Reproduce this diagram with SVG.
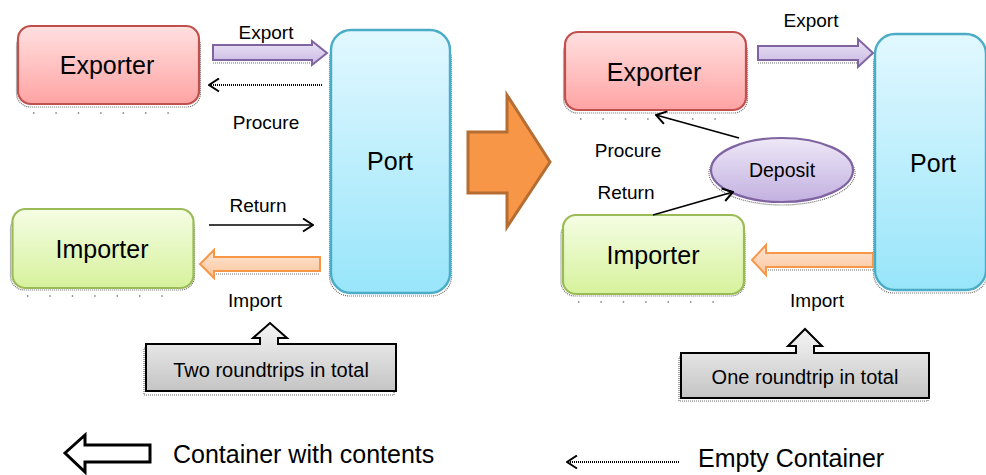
<svg xmlns="http://www.w3.org/2000/svg" width="986" height="475" viewBox="0 0 986 475">
  <defs>
    <linearGradient id="gExp" x1="0" y1="0" x2="0" y2="1">
      <stop offset="0" stop-color="#ffe0e0"/>
      <stop offset="1" stop-color="#ffa3a3"/>
    </linearGradient>
    <linearGradient id="gImp" x1="0" y1="0" x2="0" y2="1">
      <stop offset="0" stop-color="#f5fde4"/>
      <stop offset="1" stop-color="#d6f29c"/>
    </linearGradient>
    <linearGradient id="gPort" x1="0" y1="0" x2="0" y2="1">
      <stop offset="0" stop-color="#e2f8ff"/>
      <stop offset="1" stop-color="#98e5fa"/>
    </linearGradient>
    <linearGradient id="gDep" x1="0" y1="0" x2="0" y2="1">
      <stop offset="0" stop-color="#eee8f7"/>
      <stop offset="1" stop-color="#c2b0e0"/>
    </linearGradient>
    <linearGradient id="gPurple" x1="0" y1="0" x2="0" y2="1">
      <stop offset="0" stop-color="#ebe4f5"/>
      <stop offset="1" stop-color="#c8b7e2"/>
    </linearGradient>
    <linearGradient id="gOrange" x1="0" y1="0" x2="0" y2="1">
      <stop offset="0" stop-color="#fde6d4"/>
      <stop offset="1" stop-color="#fbc59c"/>
    </linearGradient>
    <linearGradient id="gGray" x1="0" y1="0" x2="0" y2="1">
      <stop offset="0" stop-color="#f5f5f5"/>
      <stop offset="1" stop-color="#c4c4c4"/>
    </linearGradient>
    <marker id="chev" viewBox="0 0 12 15" refX="11" refY="7.5" markerWidth="12" markerHeight="15" markerUnits="userSpaceOnUse" orient="auto">
      <path d="M1,1 L11,7.5 L1,14" fill="none" stroke="#000" stroke-width="2"/>
    </marker>
    <style>
      text { font-family: "Liberation Sans", Arial, sans-serif; fill: #000; }
      .big { font-size: 25px; text-anchor: middle; }
      .lbl { font-size: 19px; text-anchor: middle; }
      .note { font-size: 20px; text-anchor: middle; }
      .leg { font-size: 25px; }
      .shd { fill: none; stroke: #3a3a3a; stroke-width: 1.2; stroke-dasharray: 1 1; opacity: 0.75; }
      .spk { fill: none; stroke: #3a3a3a; stroke-width: 1.4; stroke-dasharray: 1.4 21; opacity: 0.7; }
      .exp { fill: url(#gExp); stroke: #c0504d; stroke-width: 2.2; }
      .imp { fill: url(#gImp); stroke: #9bbb59; stroke-width: 2.2; }
      .port { fill: url(#gPort); stroke: #4bacc6; stroke-width: 2.4; }
      .dep { fill: url(#gDep); stroke: #8064a2; stroke-width: 2.2; }
      .parr { fill: url(#gPurple); stroke: #8064a2; stroke-width: 2; stroke-linejoin: miter; }
      .oarr { fill: url(#gOrange); stroke: #f79646; stroke-width: 2; stroke-linejoin: miter; }
      .call { fill: url(#gGray); stroke: #000; stroke-width: 2; }
      .flow { fill: none; stroke: #000; stroke-width: 1.7; marker-end: url(#chev); }
      .empty { fill: none; stroke: #000; stroke-width: 2; stroke-dasharray: 1 1; marker-end: url(#chev); }
    </style>
  </defs>

  <rect width="986" height="475" fill="#fff"/>

  <!-- ===== Before: two roundtrips ===== -->
  <g id="exporter-1">
    <rect class="shd" x="16.5" y="32" width="184" height="75" rx="14"/>
    <line class="spk" x1="33" y1="113" x2="185" y2="113"/>
    <rect class="exp" x="18" y="26" width="181" height="78" rx="13"/>
    <text class="big" x="107" y="74">Exporter</text>
  </g>

  <g id="port-1">
    <rect class="shd" x="329.5" y="40" width="122" height="256" rx="20"/>
    <rect class="port" x="331" y="30" width="119" height="263" rx="20"/>
    <text class="big" x="390" y="170">Port</text>
  </g>

  <g id="importer-1">
    <rect class="shd" x="10.5" y="215" width="184" height="75" rx="14"/>
    <line class="spk" x1="27" y1="296" x2="180" y2="296"/>
    <rect class="imp" x="12.5" y="209" width="181" height="79" rx="13"/>
    <text class="big" x="102" y="258">Importer</text>
  </g>

  <g id="note-1">
    <path class="shd" d="M144,348 H394 V395 H144 Z"/>
    <path class="call" d="M146,344 H260 V338 H253 L270,323 L287,338 H278 V344 H396 V391 H146 Z"/>
    <text class="note" x="271" y="377">Two roundtrips in total</text>
  </g>

  <g id="connectors-1">
    <!-- Export (full container) -->
    <line class="shd" x1="213" y1="63" x2="315" y2="63"/>
    <polygon class="parr" points="213,45 312,45 312,41 327,53 312,65 312,60 213,60"/>
    <!-- Procure (empty container) -->
    <line class="empty" x1="322" y1="85" x2="209" y2="85"/>
    <!-- Return (empty container) -->
    <line class="flow" x1="209" y1="225" x2="313" y2="225"/>
    <!-- Import (full container) -->
    <line class="shd" x1="214" y1="274" x2="320" y2="274"/>
    <polygon class="oarr" points="320,257 214,257 214,250 200,264 214,278 214,271 320,271"/>
    <text class="lbl" x="266" y="39">Export</text>
    <text class="lbl" x="266" y="129">Procure</text>
    <text class="lbl" x="258" y="212">Return</text>
    <text class="lbl" x="255" y="307">Import</text>
  </g>

  <!-- transition arrow -->
  <g id="transition">
    <path d="M468,132 H507 V95 L550,162 L507,227 V193 H468 Z" fill="#f79646" stroke="#b66d31" stroke-width="3" stroke-linejoin="miter"/>
  </g>

  <!-- ===== After: one roundtrip via deposit ===== -->
  <g id="exporter-2">
    <rect class="shd" x="563.5" y="38" width="184" height="75" rx="14"/>
    <line class="spk" x1="580" y1="119" x2="732" y2="119"/>
    <rect class="exp" x="565" y="32" width="181" height="78" rx="13"/>
    <text class="big" x="654" y="81">Exporter</text>
  </g>

  <g id="port-2">
    <rect class="shd" x="873.5" y="44" width="114" height="249" rx="20"/>
    <rect class="port" x="875" y="34" width="111" height="256" rx="20"/>
    <text class="big" x="933" y="172">Port</text>
  </g>

  <g id="deposit">
    <ellipse class="shd" cx="782" cy="173" rx="73" ry="32"/>
    <ellipse class="dep" cx="782" cy="170" rx="71" ry="32"/>
    <text x="782" y="177" font-size="19.5" text-anchor="middle">Deposit</text>
  </g>

  <g id="importer-2">
    <rect class="shd" x="561" y="221" width="184" height="75" rx="14"/>
    <line class="spk" x1="578" y1="302" x2="730" y2="302"/>
    <rect class="imp" x="563" y="215" width="181" height="79" rx="13"/>
    <text class="big" x="653" y="264">Importer</text>
  </g>

  <g id="note-2">
    <path class="shd" d="M679,357 H928 V401 H679 Z"/>
    <path class="call" d="M681,353 H796 V346 H788 L805,329 L822,346 H814 V353 H929 V398 H681 Z"/>
    <text class="note" x="805" y="384">One roundtrip in total</text>
  </g>

  <g id="connectors-2">
    <!-- Export (full container) -->
    <line class="shd" x1="758" y1="63" x2="860" y2="63"/>
    <polygon class="parr" points="758,46 858,46 858,39 873,53 858,67 858,60 758,60"/>
    <!-- Procure from deposit -->
    <line class="flow" x1="739" y1="138" x2="656" y2="115"/>
    <!-- Return to deposit -->
    <line class="flow" x1="653" y1="215" x2="733" y2="192"/>
    <!-- Import (full container) -->
    <line class="shd" x1="766" y1="270" x2="873" y2="270"/>
    <polygon class="oarr" points="873,253 766,253 766,245 752,260 766,275 766,267 873,267"/>
    <text class="lbl" x="811" y="27">Export</text>
    <text class="lbl" x="628" y="157">Procure</text>
    <text class="lbl" x="626" y="199">Return</text>
    <text class="lbl" x="817" y="307">Import</text>
  </g>

  <!-- ===== Legend ===== -->
  <g id="legend-full">
    <path d="M65,453 L85,435 V445 H150 V462 H85 V472 Z" fill="#fff" stroke="#000" stroke-width="3" stroke-linejoin="miter"/>
    <text class="leg" x="173" y="463">Container with contents</text>
  </g>
  <g id="legend-empty">
    <line class="empty" x1="679" y1="462" x2="567" y2="462"/>
    <text class="leg" x="698" y="467" font-size="24.5">Empty Container</text>
  </g>
</svg>
